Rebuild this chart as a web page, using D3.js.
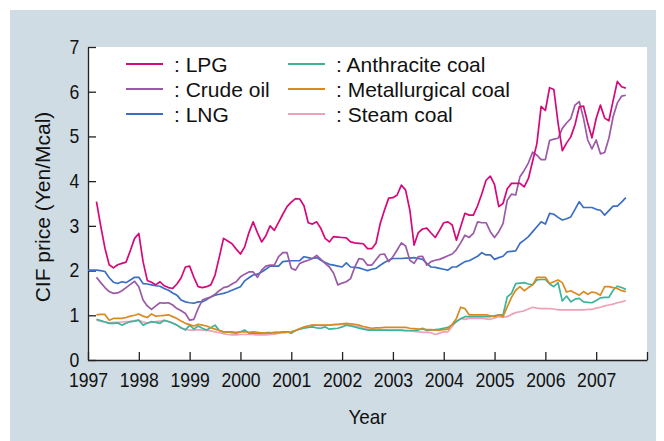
<!DOCTYPE html>
<html>
<head>
<meta charset="utf-8">
<script src="https://cdn.jsdelivr.net/npm/d3@7"></script>
<style>
  body { margin: 0; background: #fff; }
  text { font-family: "Liberation Sans", Arial, sans-serif; fill: #111; }
</style>
</head>
<body>
<script>
// monthly CIF prices (Yen/Mcal); month index 0 = Jan 1997
const lpgStart = 2;
const lpg = [
  3.54, 3.00, 2.50, 2.13, 2.06, 2.13, 2.16, 2.19, 2.45, 2.72,
  2.83, 2.20, 1.78, 1.74, 1.68, 1.75, 1.66, 1.62, 1.60, 1.70,
  1.84, 2.08, 2.10, 1.85, 1.64, 1.62, 1.64, 1.68, 1.90, 2.30,
  2.72, 2.66, 2.60, 2.48, 2.37, 2.53, 2.85, 3.09, 2.85, 2.64,
  2.78, 3.00, 2.90, 3.08, 3.26, 3.43, 3.53, 3.61, 3.60, 3.45,
  3.07, 3.04, 3.09, 2.94, 2.72, 2.64, 2.76, 2.75, 2.74, 2.73,
  2.64, 2.62, 2.61, 2.60, 2.49, 2.49, 2.61, 3.05, 3.35, 3.62,
  3.63, 3.69, 3.91, 3.80, 3.35, 2.57, 2.85, 2.93, 2.95, 2.84,
  2.74, 2.90, 3.07, 3.09, 3.02, 2.68, 2.98, 3.28, 3.24, 3.24,
  3.45, 3.72, 4.02, 4.11, 3.92, 3.43, 3.50, 3.83, 3.95, 3.95,
  3.95, 3.87, 4.06, 4.45, 4.84, 5.67, 5.58, 6.09, 6.05, 5.30,
  4.68, 4.85, 4.99, 5.26, 5.66, 5.68, 5.30, 4.97, 5.40, 5.70,
  5.41, 5.35, 5.80, 6.23, 6.11, 6.08
];
const crudeStart = 2;
const crude = [
  1.85, 1.73, 1.62, 1.53, 1.49, 1.50, 1.55, 1.62, 1.69, 1.76,
  1.64, 1.34, 1.21, 1.13, 1.21, 1.28, 1.27, 1.28, 1.23, 1.15,
  1.10, 1.04, 0.89, 0.91, 1.15, 1.34, 1.38, 1.41, 1.47, 1.55,
  1.62, 1.64, 1.70, 1.75, 1.86, 1.92, 1.97, 1.97, 1.85, 2.01,
  2.10, 2.12, 2.12, 2.31, 2.40, 2.40, 2.05, 2.01, 2.16, 2.20,
  2.23, 2.27, 2.34, 2.25, 2.16, 2.08, 1.94, 1.68, 1.72, 1.75,
  1.82, 2.08, 2.27, 2.25, 2.12, 2.12, 2.24, 2.36, 2.37, 2.20,
  2.31, 2.46, 2.62, 2.55, 2.23, 2.16, 2.31, 2.32, 2.12, 2.20,
  2.23, 2.25, 2.29, 2.33, 2.37, 2.47, 2.62, 2.79, 2.74, 2.83,
  3.09, 3.07, 3.07, 2.87, 2.74, 2.87, 3.05, 3.57, 3.71, 3.69,
  4.10, 4.24, 4.41, 4.65, 4.58, 4.48, 4.48, 4.91, 4.94, 4.96,
  5.18, 5.30, 5.40, 5.70, 5.78, 5.41, 4.92, 4.72, 4.92, 4.61,
  4.64, 4.96, 5.44, 5.75, 5.90, 5.92
];
const lngStart = 0;
const lng = [
  2.01, 2.01, 2.01, 2.00, 1.98, 1.84, 1.74, 1.71, 1.75, 1.73,
  1.79, 1.85, 1.85, 1.71, 1.70, 1.68, 1.66, 1.65, 1.60, 1.56,
  1.50, 1.45, 1.34, 1.30, 1.28, 1.27, 1.30, 1.30, 1.35, 1.41,
  1.45, 1.47, 1.49, 1.52, 1.56, 1.60, 1.64, 1.77, 1.84, 1.90,
  1.92, 1.97, 2.03, 2.10, 2.10, 2.10, 2.20, 2.21, 2.22, 2.22,
  2.22, 2.31, 2.29, 2.27, 2.29, 2.23, 2.18, 2.14, 2.12, 2.10,
  2.08, 2.17, 2.08, 2.07, 2.06, 2.03, 2.00, 2.03, 2.05, 2.12,
  2.18, 2.23, 2.27, 2.27, 2.27, 2.28, 2.28, 2.29, 2.27, 2.25,
  2.16, 2.08, 2.07, 2.05, 2.03, 2.01, 2.08, 2.08, 2.14, 2.20,
  2.22, 2.27, 2.32, 2.40, 2.35, 2.35, 2.25, 2.29, 2.32, 2.42,
  2.43, 2.44, 2.61, 2.68, 2.76, 2.87, 2.98, 3.09, 3.04, 3.28,
  3.26, 3.19, 3.13, 3.16, 3.20, 3.37, 3.54, 3.41, 3.41, 3.41,
  3.37, 3.35, 3.24, 3.34, 3.44, 3.44, 3.53, 3.63
];
const anthraciteStart = 2;
const anthracite = [
  0.91, 0.88, 0.85, 0.82, 0.82, 0.83, 0.78, 0.82, 0.86, 0.87,
  0.89, 0.78, 0.82, 0.86, 0.84, 0.82, 0.89, 0.86, 0.82, 0.78,
  0.72, 0.67, 0.78, 0.69, 0.76, 0.71, 0.67, 0.72, 0.78, 0.66,
  0.63, 0.62, 0.61, 0.60, 0.63, 0.67, 0.60, 0.60, 0.60, 0.60,
  0.61, 0.61, 0.62, 0.62, 0.63, 0.63, 0.60, 0.66, 0.69, 0.71,
  0.73, 0.74, 0.72, 0.71, 0.74, 0.69, 0.70, 0.71, 0.74, 0.78,
  0.76, 0.74, 0.71, 0.69, 0.67, 0.67, 0.67, 0.67, 0.67, 0.67,
  0.67, 0.67, 0.67, 0.66, 0.66, 0.66, 0.67, 0.71, 0.66, 0.67,
  0.68, 0.69, 0.71, 0.73, 0.79, 0.86, 0.92, 0.97, 0.97, 0.97,
  0.97, 0.97, 0.97, 0.97, 0.99, 1.01, 1.01, 1.41, 1.49, 1.71,
  1.72, 1.73, 1.70, 1.68, 1.79, 1.80, 1.80, 1.70, 1.64, 1.73,
  1.32, 1.43, 1.30, 1.36, 1.38, 1.30, 1.29, 1.28, 1.33, 1.39,
  1.40, 1.40, 1.56, 1.65, 1.62, 1.58
];
const metallurgicalStart = 2;
const metallurgical = [
  1.01, 1.02, 1.02, 0.89, 0.93, 0.93, 0.93, 0.95, 0.98, 1.00,
  1.03, 0.98, 0.95, 1.03, 0.98, 0.99, 1.00, 1.01, 0.97, 0.93,
  0.87, 0.82, 0.79, 0.76, 0.80, 0.78, 0.76, 0.72, 0.69, 0.66,
  0.63, 0.63, 0.63, 0.62, 0.63, 0.63, 0.62, 0.63, 0.62, 0.61,
  0.60, 0.60, 0.61, 0.61, 0.62, 0.62, 0.63, 0.66, 0.70, 0.74,
  0.76, 0.78, 0.78, 0.78, 0.78, 0.78, 0.79, 0.80, 0.81, 0.82,
  0.81, 0.80, 0.78, 0.75, 0.73, 0.71, 0.72, 0.72, 0.73, 0.73,
  0.73, 0.73, 0.73, 0.73, 0.71, 0.70, 0.69, 0.69, 0.68, 0.68,
  0.67, 0.67, 0.68, 0.69, 0.80, 0.93, 1.18, 1.15, 1.01, 1.01,
  1.01, 1.01, 1.01, 0.99, 0.97, 1.01, 0.97, 1.19, 1.40, 1.56,
  1.64, 1.55, 1.62, 1.68, 1.85, 1.85, 1.85, 1.71, 1.75, 1.79,
  1.73, 1.52, 1.55, 1.50, 1.45, 1.53, 1.47, 1.52, 1.50, 1.45,
  1.64, 1.64, 1.62, 1.60, 1.55, 1.53
];
const steamStart = 2;
const steam = [
  0.89, 0.87, 0.85, 0.83, 0.84, 0.84, 0.85, 0.86, 0.86, 0.88,
  0.89, 0.85, 0.83, 0.84, 0.86, 0.87, 0.88, 0.86, 0.83, 0.78,
  0.71, 0.69, 0.67, 0.67, 0.68, 0.67, 0.66, 0.65, 0.63, 0.61,
  0.59, 0.57, 0.56, 0.56, 0.57, 0.57, 0.57, 0.57, 0.56, 0.56,
  0.56, 0.57, 0.58, 0.60, 0.61, 0.62, 0.63, 0.66, 0.70, 0.73,
  0.76, 0.78, 0.78, 0.77, 0.78, 0.78, 0.79, 0.79, 0.80, 0.79,
  0.78, 0.76, 0.74, 0.71, 0.69, 0.68, 0.67, 0.67, 0.67, 0.66,
  0.66, 0.66, 0.66, 0.65, 0.65, 0.64, 0.63, 0.62, 0.62, 0.61,
  0.57, 0.60, 0.63, 0.63, 0.75, 0.86, 0.93, 0.91, 0.93, 0.93,
  0.93, 0.93, 0.92, 0.91, 0.94, 0.97, 0.96, 0.97, 1.02, 1.06,
  1.08, 1.10, 1.14, 1.18, 1.16, 1.15, 1.15, 1.15, 1.14, 1.12,
  1.12, 1.12, 1.12, 1.12, 1.12, 1.12, 1.13, 1.13, 1.16, 1.18,
  1.21, 1.23, 1.25, 1.28, 1.30, 1.33
];

const yearTicks = [1997, 1998, 1999, 2000, 2001, 2002, 2003, 2004, 2005, 2006, 2007, 2008];
const priceTicks = [0, 1, 2, 3, 4, 5, 6, 7];

// drawing order: coals underneath, oil products on top
const series = [
  { name: ": Steam coal", color: "#eea2b7", start: steamStart, values: steam },
  { name: ": Anthracite coal", color: "#3db39b", start: anthraciteStart, values: anthracite },
  { name: ": Metallurgical coal", color: "#db8a1f", start: metallurgicalStart, values: metallurgical },
  { name: ": LNG", color: "#3b6fc3", start: lngStart, values: lng },
  { name: ": Crude oil", color: "#9a5aa6", start: crudeStart, values: crude },
  { name: ": LPG", color: "#d6087a", start: lpgStart, values: lpg }
];

const W = 664, H = 441;
const plot = { left: 88, right: 647, top: 47, bottom: 360 };

const svg = d3.select("body").append("svg")
  .attr("width", W)
  .attr("height", H);

svg.append("rect")
  .attr("x", 10).attr("y", 10)
  .attr("width", 646).attr("height", 431)
  .attr("fill", "#cfdce3");

svg.append("rect")
  .attr("x", plot.left).attr("y", plot.top)
  .attr("width", plot.right - plot.left).attr("height", plot.bottom - plot.top)
  .attr("fill", "#fff");

const x = d3.scaleLinear().domain([1997, 2008]).range([plot.left, plot.right]);
const y = d3.scaleLinear().domain([0, 7]).range([plot.bottom, plot.top]);

const xAxis = svg.append("g")
  .attr("transform", "translate(0," + plot.bottom + ")")
  .call(d3.axisBottom(x)
    .tickValues(yearTicks)
    .tickFormat(d => d === 2008 ? "" : d)
    .tickSizeInner(-8)
    .tickSizeOuter(0)
    .tickPadding(13));

const yAxis = svg.append("g")
  .attr("transform", "translate(" + plot.left + ",0)")
  .call(d3.axisLeft(y)
    .tickValues(priceTicks)
    .tickFormat(d3.format("d"))
    .tickSizeInner(-8)
    .tickSizeOuter(0)
    .tickPadding(10));

[xAxis, yAxis].forEach(g => {
  g.select(".domain").attr("stroke", "#222").attr("stroke-width", 1.3);
  g.selectAll(".tick line").attr("stroke", "#222").attr("stroke-width", 1.3);
  // labels in the source are a condensed face; squeeze them a little
  g.selectAll(".tick text")
    .style("font-size", "20px")
    .attr("fill", "#111")
    .attr("transform", "scale(0.88,1)");
});

const line = d3.line()
  .x(d => x(1997 + d.m / 12))
  .y(d => y(d.v));

series.forEach(s => {
  const pts = s.values.map((v, i) => ({ m: s.start + i, v: v }));
  svg.append("path")
    .datum(pts)
    .attr("fill", "none")
    .attr("stroke", s.color)
    .attr("stroke-width", 1.7)
    .attr("stroke-linejoin", "round")
    .attr("d", line);
});

// legend, two columns of three
const legendOrder = [": LPG", ": Crude oil", ": LNG", ": Anthracite coal", ": Metallurgical coal", ": Steam coal"];
legendOrder.forEach((name, i) => {
  const s = series.find(d => d.name === name);
  const col = Math.floor(i / 3), row = i % 3;
  const lx = col === 0 ? 126 : 288;
  const ly = 64 + row * 25;
  svg.append("line")
    .attr("x1", lx).attr("x2", lx + 37)
    .attr("y1", ly).attr("y2", ly)
    .attr("stroke", s.color).attr("stroke-width", 2);
  svg.append("text")
    .attr("x", lx + 48).attr("y", ly + 7.5)
    .style("font-size", "21px")
    .text(name);
});

svg.append("text")
  .attr("transform", "translate(50,207) rotate(-90)")
  .attr("text-anchor", "middle")
  .style("font-size", "21px")
  .text("CIF price (Yen/Mcal)");

svg.append("text")
  .attr("transform", "translate(" + (plot.left + plot.right) / 2 + ",424) scale(0.9,1)")
  .attr("text-anchor", "middle")
  .style("font-size", "21px")
  .text("Year");
</script>
</body>
</html>
